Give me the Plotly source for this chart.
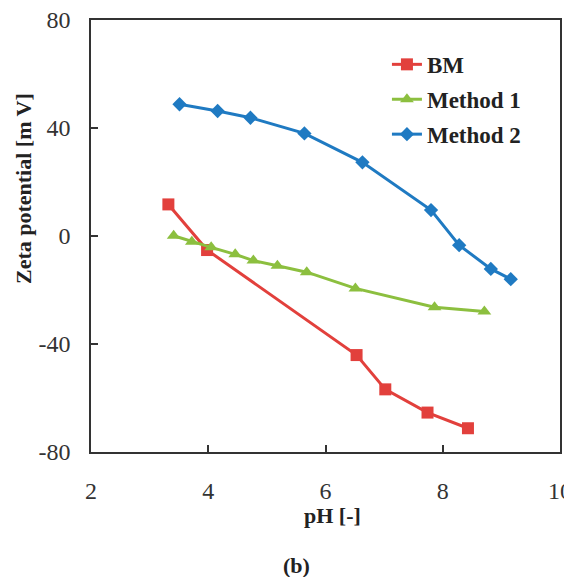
import plotly.graph_objects as go

bm_ph = [3.32, 3.98, 6.53, 7.02, 7.74, 8.43]
bm_zeta = [11.7, -5.2, -44.1, -56.8, -65.4, -71.2]

m1_ph = [3.41, 3.72, 4.05, 4.46, 4.77, 5.18, 5.68, 6.51, 7.86, 8.71]
m1_zeta = [0.1, -2.1, -4.2, -6.8, -9.1, -11.0, -13.4, -19.4, -26.4, -28.0]

m2_ph = [3.51, 4.16, 4.72, 5.64, 6.63, 7.80, 8.28, 8.82, 9.16]
m2_zeta = [48.8, 46.3, 43.8, 38.0, 27.3, 9.6, -3.4, -12.2, -16.0]

x_ticks = [2, 4, 6, 8, 10]
x_tick_labels = ["2", "4", "6", "8", "10"]
y_ticks = [-80, -40, 0, 40, 80]
y_tick_labels = ["-80", "-40", "0", "40", "80"]

SERIF = "Liberation Serif"

fig = go.Figure()
fig.add_trace(go.Scatter(x=bm_ph, y=bm_zeta, name="BM", mode="lines+markers",
                         legendgroup="a",
                         line=dict(color="#E2403C", width=3),
                         marker=dict(symbol="square", size=12, color="#E2403C")))
fig.add_trace(go.Scatter(x=m1_ph, y=m1_zeta, name="Method 1", mode="lines+markers",
                         legendgroup="b",
                         line=dict(color="#8CBF3F", width=3),
                         marker=dict(symbol="triangle-up", size=12, color="#8CBF3F")))
fig.add_trace(go.Scatter(x=m2_ph, y=m2_zeta, name="Method 2", mode="lines+markers",
                         legendgroup="c",
                         line=dict(color="#1F7AC2", width=3),
                         marker=dict(symbol="diamond", size=11, color="#1F7AC2")))

axis_common = dict(showline=True, linecolor="#333333", linewidth=1.5, mirror=True,
                   showgrid=False, zeroline=False, ticks="inside", ticklen=7,
                   tickwidth=1.5, tickcolor="#333333", automargin=False,
                   ticklabeloverflow="allow",
                   tickfont=dict(family=SERIF, size=24, color="#333333"))

fig.update_layout(
    width=564, height=569,
    margin=dict(l=83, r=12, t=12, b=125),
    paper_bgcolor="white", plot_bgcolor="white",
    showlegend=True,
    legend=dict(x=0.631, y=0.947, xanchor="left", yanchor="top",
                font=dict(family=SERIF, size=23, color="#222222", weight="bold"),
                bgcolor="rgba(0,0,0,0)", tracegroupgap=2, itemwidth=30),
    xaxis=dict(range=[2, 10], tickvals=x_ticks, ticktext=x_tick_labels,
               ticklabelstandoff=16, **axis_common),
    yaxis=dict(range=[-80, 80], tickvals=y_ticks, ticktext=y_tick_labels,
               ticklabelstandoff=14, **axis_common),
    annotations=[
        dict(text="<b>Zeta potential [m V]</b>", xref="paper", yref="paper",
             x=-0.145, y=0.611, textangle=-90, showarrow=False,
             font=dict(family=SERIF, size=22, color="#222222"),
             xanchor="center", yanchor="middle"),
        dict(text="<b>pH [-]</b>", xref="paper", yref="paper",
             x=0.514, y=-0.146, showarrow=False,
             font=dict(family=SERIF, size=22, color="#222222"),
             xanchor="center", yanchor="middle"),
        dict(text="<b>(b)</b>", xref="paper", yref="paper",
             x=0.439, y=-0.262, showarrow=False,
             font=dict(family=SERIF, size=22, color="#222222"),
             xanchor="center", yanchor="middle"),
    ],
)

fig.write_html("out.html")
